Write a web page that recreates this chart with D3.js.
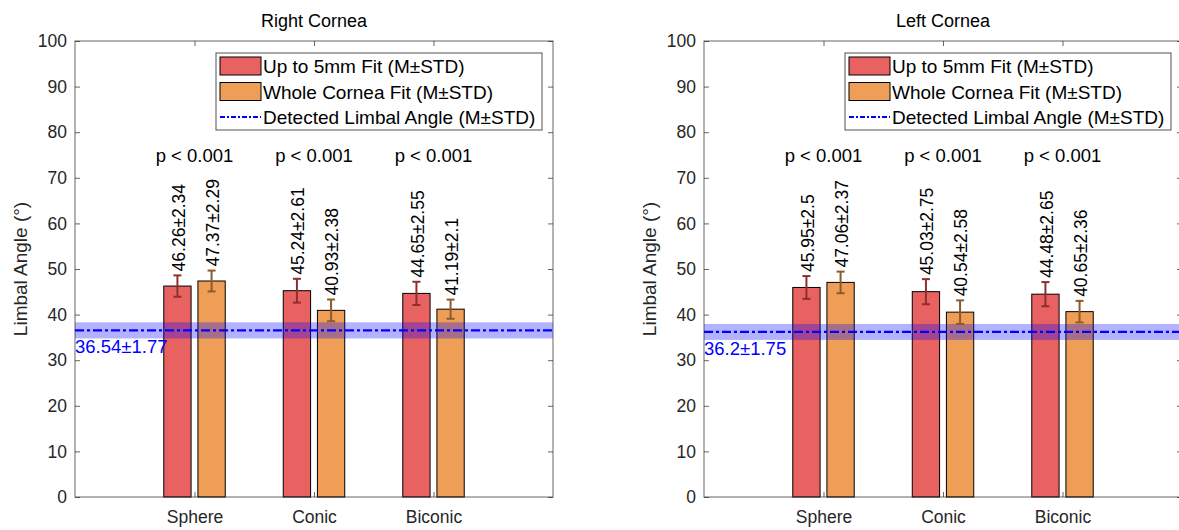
<!DOCTYPE html>
<html>
<head>
<meta charset="utf-8">
<script src="https://d3js.org/d3.v7.min.js"></script>
<style>
  body { margin: 0; background: #fff; }
  svg { display: block; font-family: "Liberation Sans", Arial, sans-serif; }
</style>
</head>
<body>
<div class="chart"></div>
<script>
// categories and tick labels
var categories = ["Sphere", "Conic", "Biconic"];
var yTicks = [0, 10, 20, 30, 40, 50, 60, 70, 80, 90, 100];
var pLabels = ["p < 0.001", "p < 0.001", "p < 0.001"];
var seriesNames = ["Up to 5mm Fit (M\u00b1STD)", "Whole Cornea Fit (M\u00b1STD)", "Detected Limbal Angle (M\u00b1STD)"];

// right cornea
var rightFit5 = [46.26, 45.24, 44.65];
var rightFit5Std = [2.34, 2.61, 2.55];
var rightWhole = [47.37, 40.93, 41.19];
var rightWholeStd = [2.29, 2.38, 2.1];
var rightLimbal = [36.54, 1.77];

// left cornea
var leftFit5 = [45.95, 45.03, 44.48];
var leftFit5Std = [2.5, 2.75, 2.65];
var leftWhole = [47.06, 40.54, 40.65];
var leftWholeStd = [2.37, 2.58, 2.36];
var leftLimbal = [36.2, 1.75];

var W = 1179, H = 530;
var barColors = ["#e96262", "#ee9e57"];
var errColors = ["#8e2f2f", "#8e5a29"];
var axisColor = "#262626";
var dash = "9,3,3,3";

var svg = d3.select(".chart").append("svg")
    .attr("width", W)
    .attr("height", H);

drawPanel(75, "Right Cornea", [rightFit5, rightWhole], [rightFit5Std, rightWholeStd], rightLimbal);
drawPanel(704, "Left Cornea", [leftFit5, leftWhole], [leftFit5Std, leftWholeStd], leftLimbal);

function drawPanel(left, title, means, stds, limbal) {
    var top = 41, bottom = 497, width = 478;
    var x = d3.scaleLinear().domain([0, 4]).range([left, left + width]);
    var y = d3.scaleLinear().domain([0, 100]).range([bottom, top]);
    var g = svg.append("g");

    // grouped bar geometry (matlab style)
    var groupWidth = Math.min(0.8, 2 / 3.5);
    var barW = groupWidth / 2 * 0.8;
    var offsets = [-groupWidth / 4, groupWidth / 4];

    for (let s = 0; s < 2; s++) {
        g.selectAll(".bar" + s)
            .data(means[s])
            .enter()
            .append("rect")
            .attr("x", (d, i) => x(i + 1 + offsets[s] - barW / 2))
            .attr("y", d => y(d))
            .attr("width", x(barW) - x(0))
            .attr("height", d => y(0) - y(d))
            .attr("fill", barColors[s])
            .attr("stroke", "#000")
            .attr("stroke-width", 1);
    }

    // limbal band + line
    g.append("rect")
        .attr("x", x(0))
        .attr("y", y(limbal[0] + limbal[1]))
        .attr("width", width)
        .attr("height", y(limbal[0] - limbal[1]) - y(limbal[0] + limbal[1]))
        .attr("fill", "rgba(0,0,255,0.3)");
    g.append("line")
        .attr("x1", x(0)).attr("x2", x(4))
        .attr("y1", y(limbal[0])).attr("y2", y(limbal[0]))
        .attr("stroke", "#0000ff")
        .attr("stroke-width", 2.2)
        .attr("stroke-dasharray", dash);
    g.append("text")
        .attr("x", x(0))
        .attr("y", y(limbal[0] - limbal[1]) + 15)
        .attr("font-size", 18.5)
        .attr("fill", "#0000ff")
        .text(limbal[0] + "\u00b1" + limbal[1]);

    // error bars + value labels
    for (let s = 0; s < 2; s++) {
        for (let i = 0; i < 3; i++) {
            let cx = x(i + 1 + offsets[s]);
            let m = means[s][i], sd = stds[s][i];
            g.append("line")
                .attr("x1", cx).attr("x2", cx)
                .attr("y1", y(m - sd)).attr("y2", y(m + sd))
                .attr("stroke", errColors[s]).attr("stroke-width", 2);
            [m - sd, m + sd].forEach(function(v) {
                g.append("line")
                    .attr("x1", cx - 4).attr("x2", cx + 4)
                    .attr("y1", y(v)).attr("y2", y(v))
                    .attr("stroke", errColors[s]).attr("stroke-width", 2);
            });
            g.append("text")
                .attr("transform", "translate(" + (cx + 1) + "," + (y(m + sd) - 4) + ") rotate(-90)")
                .attr("dy", "0.35em")
                .attr("font-size", 17.5)
                .attr("fill", "#000")
                .text(m + "\u00b1" + sd);
        }
    }

    // p-values
    g.selectAll(".pval")
        .data(pLabels)
        .enter()
        .append("text")
        .attr("x", (d, i) => x(i + 1))
        .attr("y", y(75) + 7)
        .attr("text-anchor", "middle")
        .attr("font-size", 18.5)
        .attr("fill", "#000")
        .text(d => d);

    // axes box
    g.append("rect")
        .attr("x", x(0)).attr("y", top)
        .attr("width", width).attr("height", bottom - top)
        .attr("fill", "none")
        .attr("stroke", axisColor)
        .attr("stroke-opacity", 0.7)
        .attr("stroke-width", 1);

    var yAxis = g.append("g")
        .attr("transform", "translate(" + x(0) + ",0)")
        .call(d3.axisLeft(y).tickValues(yTicks).tickSize(-5).tickPadding(8));
    var yAxisR = g.append("g")
        .attr("transform", "translate(" + x(4) + ",0)")
        .call(d3.axisRight(y).tickValues(yTicks).tickSize(-5).tickFormat(""));
    var xAxis = g.append("g")
        .attr("transform", "translate(0," + bottom + ")")
        .call(d3.axisBottom(x).tickValues([1, 2, 3]).tickSize(-5).tickPadding(14)
            .tickFormat((d, i) => categories[i]));
    var xAxisT = g.append("g")
        .attr("transform", "translate(0," + top + ")")
        .call(d3.axisTop(x).tickValues([1, 2, 3]).tickSize(-5).tickFormat(""));

    [yAxis, yAxisR, xAxis, xAxisT].forEach(function(a) {
        a.select(".domain").remove();
        a.selectAll("line").attr("stroke", axisColor).attr("stroke-opacity", 0.7);
        a.selectAll("text")
            .attr("font-size", 17.5)
            .attr("fill", axisColor)
            .attr("font-family", "Liberation Sans, Arial, sans-serif");
    });

    // y label
    g.append("text")
        .attr("transform", "translate(" + (left - 55) + "," + ((top + bottom) / 2) + ") rotate(-90)")
        .attr("text-anchor", "middle")
        .attr("dy", "0.35em")
        .attr("font-size", 19)
        .attr("fill", axisColor)
        .text("Limbal Angle (\u00b0)");

    // title
    g.append("text")
        .attr("x", x(2))
        .attr("y", 27)
        .attr("text-anchor", "middle")
        .attr("font-size", 18)
        .attr("fill", "#000")
        .text(title);

    // legend
    var lgW = 326, lgH = 77;
    var lgX = x(4) - 11 - lgW, lgY = 53;
    var lg = g.append("g").attr("transform", "translate(" + lgX + "," + lgY + ")");
    lg.append("rect")
        .attr("width", lgW).attr("height", lgH)
        .attr("fill", "#fff")
        .attr("stroke", axisColor)
        .attr("stroke-opacity", 0.8);
    for (let s = 0; s < 3; s++) {
        let cy = 13 + 25.5 * s;
        if (s < 2) {
            lg.append("rect")
                .attr("x", 4).attr("y", cy - 9)
                .attr("width", 41).attr("height", 18)
                .attr("fill", barColors[s])
                .attr("stroke", "#000");
        } else {
            lg.append("line")
                .attr("x1", 4).attr("x2", 45)
                .attr("y1", cy).attr("y2", cy)
                .attr("stroke", "#0000ff")
                .attr("stroke-width", 2)
                .attr("stroke-dasharray", "5,2,2,2");
        }
        lg.append("text")
            .attr("x", 47)
            .attr("y", cy + 7)
            .attr("font-size", 19)
            .attr("fill", "#000")
            .text(seriesNames[s]);
    }
}
</script>
</body>
</html>
